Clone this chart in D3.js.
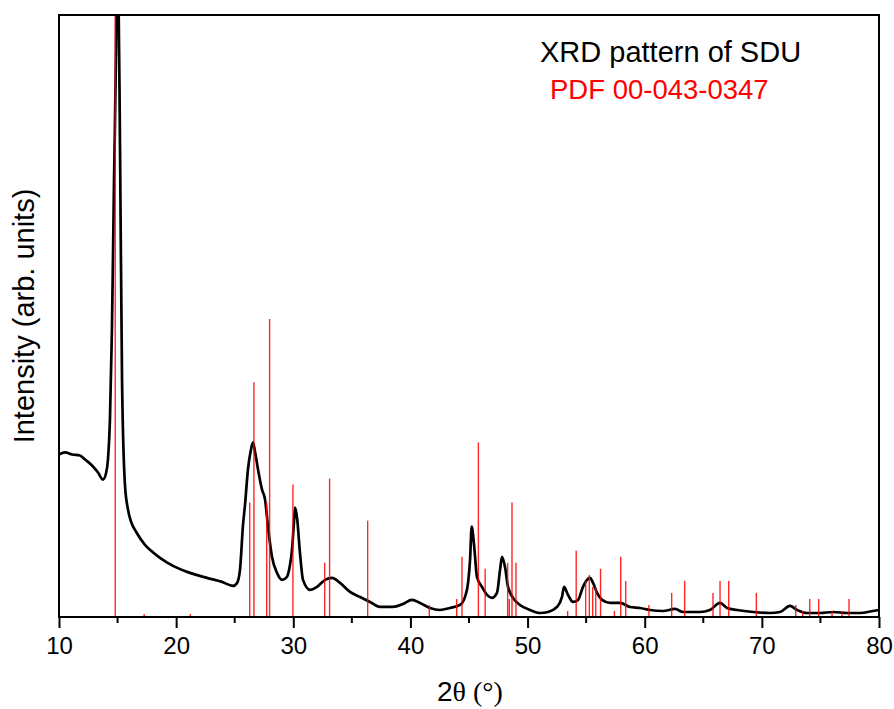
<!DOCTYPE html>
<html>
<head>
<meta charset="utf-8">
<script src="https://cdn.jsdelivr.net/npm/d3@7"></script>
<style>
  html, body { margin: 0; padding: 0; background: #fff; }
  svg { display: block; }
</style>
</head>
<body>
<svg id="chart" width="894" height="709"></svg>
<script>
// Measured XRD pattern: 2θ (degrees) and intensity (arb. units)
const twoTheta = [
  10.00, 10.51, 11.11, 11.79, 12.22, 12.82, 13.33, 13.76, 14.01, 14.18,
  14.35, 14.52, 14.70, 14.87, 14.95, 15.04, 15.21, 15.38, 15.63, 15.89,
  16.15, 16.63, 17.34, 17.77, 18.62, 19.73, 21.18, 22.63, 23.91, 24.85,
  25.20, 25.45, 25.71, 25.88, 26.13, 26.39, 26.56, 26.73, 26.99, 27.33,
  27.59, 27.84, 28.18, 28.61, 29.04, 29.46, 29.72, 29.89, 30.06, 30.15,
  30.32, 30.57, 30.83, 31.43, 32.02, 32.71, 33.31, 33.99, 34.84, 35.70,
  36.55, 37.40, 38.51, 39.37, 40.13, 40.82, 41.67, 42.52, 43.38, 44.23,
  44.66, 44.92, 45.09, 45.23, 45.43, 45.68, 46.11, 46.54, 46.96, 47.39,
  47.65, 47.82, 48.07, 48.33, 48.76, 49.35, 50.21, 51.06, 51.74, 52.51,
  52.94, 53.11, 53.45, 53.88, 54.31, 54.73, 55.07, 55.33, 55.59, 55.93,
  56.36, 57.04, 57.89, 58.75, 59.60, 60.45, 61.56, 62.59, 63.27, 64.72,
  65.57, 66.43, 67.03, 67.88, 69.25, 70.70, 71.55, 72.40, 73.00, 73.85,
  74.96, 76.07, 77.27, 78.38, 79.49, 80.00
];
const intensity = [
  810, 820, 810, 805, 785, 755, 720, 685, 715, 785,
  985, 1435, 2185, 2835, 3400, 3300, 2335, 1185, 660, 535,
  475, 420, 360, 335, 295, 255, 220, 195, 175, 155,
  170, 235, 460, 560, 735, 835, 870, 825, 735, 635,
  585, 450, 300, 220, 185, 200, 260, 335, 475, 545,
  495, 320, 185, 135, 150, 185, 195, 170, 125, 100,
  75, 50, 50, 65, 85, 70, 45, 35, 45, 60,
  100, 170, 285, 450, 360, 200, 150, 110, 95, 120,
  235, 300, 250, 150, 95, 60, 35, 20, 25, 50,
  100, 150, 110, 75, 85, 150, 185, 195, 170, 120,
  85, 70, 70, 50, 45, 35, 30, 40, 25, 25,
  35, 70, 45, 35, 25, 20, 25, 55, 35, 20,
  20, 25, 20, 20, 30, 35
];

// Reference pattern PDF 00-043-0347: line positions and relative intensities (%)
const pdfTwoTheta = [
  14.80, 17.27, 21.21, 26.28, 26.64, 27.73, 27.98, 29.97, 32.68, 33.10,
  36.35, 41.61, 43.95, 44.40, 45.80, 46.38, 48.30, 48.44, 48.67, 49.01,
  53.42, 54.15, 54.96, 55.27, 55.56, 55.82, 56.23, 57.41, 57.95, 58.38,
  60.36, 62.30, 63.41, 65.83, 66.43, 67.17, 69.53, 72.89, 73.49, 74.09,
  74.85, 75.99, 76.84, 77.44
];
const pdfRelInt = [
  100, 0.5, 0.5, 19, 39, 19, 49.5, 22, 9, 23,
  16, 2, 3, 10, 29, 8, 9, 3, 19, 9,
  1, 11, 6, 7, 5, 5, 8, 1, 10, 6,
  2, 4, 6, 4, 6, 6, 4, 2, 1, 3,
  3, 1, 1, 3
];

const xTicks = [10, 20, 30, 40, 50, 60, 70, 80];
const xMinorTicks = [15, 25, 35, 45, 55, 65, 75];

const svg = d3.select("#chart");
const m = { left: 59, right: 879, top: 15, bottom: 617 };

const x = d3.scaleLinear().domain([10, 80]).range([m.left, m.right]);
const y = d3.scaleLinear().domain([0, 3000]).range([m.bottom, m.top]);
const yPdf = d3.scaleLinear().domain([0, 100]).range([m.bottom, m.top]);

svg.append("defs").append("clipPath").attr("id", "plot-clip")
  .append("rect")
  .attr("x", m.left).attr("y", m.top)
  .attr("width", m.right - m.left).attr("height", m.bottom - m.top);

const pattern = twoTheta.map((t, i) => ({ t, v: intensity[i] }));
const sticks = pdfTwoTheta.map((t, i) => ({ t, v: pdfRelInt[i] }));

// measured pattern
const line = d3.line()
  .x(d => x(d.t))
  .y(d => y(d.v))
  .curve(d3.curveMonotoneX);

svg.append("path")
  .datum(pattern)
  .attr("clip-path", "url(#plot-clip)")
  .attr("fill", "none")
  .attr("stroke", "#000")
  .attr("stroke-width", 2.7)
  .attr("stroke-linejoin", "round")
  .attr("d", line);

// reference stick pattern
svg.append("g")
  .attr("clip-path", "url(#plot-clip)")
  .selectAll("line")
  .data(sticks)
  .join("line")
  .attr("x1", d => x(d.t)).attr("x2", d => x(d.t))
  .attr("y1", m.bottom)
  .attr("y2", d => yPdf(d.v))
  .attr("stroke", "#ff0000")
  .attr("stroke-opacity", 0.85)
  .attr("stroke-width", 1.4);

// bottom axis with outward ticks
const xAxis = d3.axisBottom(x)
  .tickValues(xTicks)
  .tickFormat(d3.format("d"))
  .tickSize(11)
  .tickPadding(9)
  .tickSizeOuter(0);

const gx = svg.append("g")
  .attr("transform", `translate(0,${m.bottom})`)
  .call(xAxis);
gx.select(".domain").remove();
gx.selectAll(".tick line").attr("stroke", "#000").attr("stroke-width", 2);
gx.selectAll(".tick text")
  .attr("fill", "#000")
  .style("font-family", "'Liberation Sans', Arial, sans-serif")
  .style("font-size", "24px");

svg.append("g")
  .attr("transform", `translate(0,${m.bottom})`)
  .selectAll("line")
  .data(xMinorTicks)
  .join("line")
  .attr("x1", d => x(d)).attr("x2", d => x(d))
  .attr("y1", 0).attr("y2", 6)
  .attr("stroke", "#000")
  .attr("stroke-width", 2);

// plot frame
svg.append("rect")
  .attr("x", m.left).attr("y", m.top)
  .attr("width", m.right - m.left).attr("height", m.bottom - m.top)
  .attr("fill", "none")
  .attr("stroke", "#000")
  .attr("stroke-width", 2);

// axis titles
const xTitle = svg.append("text")
  .attr("x", 437).attr("y", 701)
  .attr("fill", "#000");
xTitle.append("tspan")
  .style("font-family", "'Liberation Sans', Arial, sans-serif")
  .style("font-size", "28px")
  .text("2");
xTitle.append("tspan")
  .style("font-family", "'Liberation Serif', 'Times New Roman', serif")
  .style("font-size", "28px")
  .text("θ (°)");

svg.append("text")
  .attr("transform", `translate(34,${(m.top + m.bottom) / 2}) rotate(-90)`)
  .attr("text-anchor", "middle")
  .attr("fill", "#000")
  .style("font-family", "'Liberation Sans', Arial, sans-serif")
  .style("font-size", "29px")
  .text("Intensity (arb. units)");

// legend
svg.append("text")
  .attr("x", 540).attr("y", 62)
  .attr("fill", "#000")
  .style("font-family", "'Liberation Sans', Arial, sans-serif")
  .style("font-size", "29px")
  .text("XRD pattern of SDU");

svg.append("text")
  .attr("x", 550).attr("y", 99)
  .attr("fill", "#ff0000")
  .style("font-family", "'Liberation Sans', Arial, sans-serif")
  .style("font-size", "27.5px")
  .text("PDF 00-043-0347");
</script>
</body>
</html>
